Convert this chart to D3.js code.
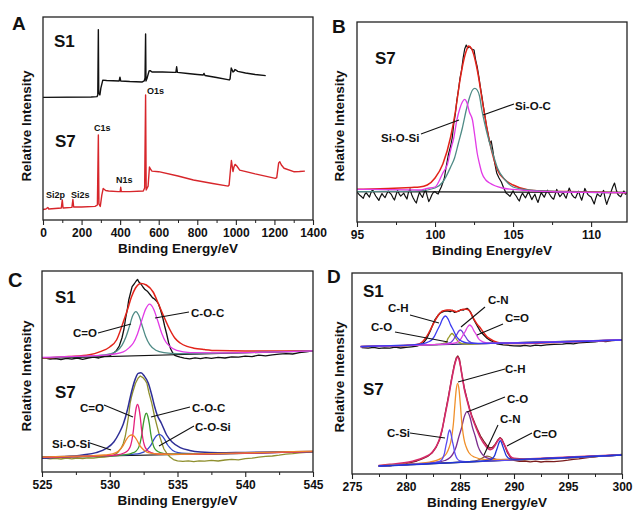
<!DOCTYPE html>
<html><head><meta charset="utf-8">
<script src="https://cdn.jsdelivr.net/npm/d3@7"></script>
<style>
body{margin:0;background:#fff;}
svg text{font-family:"Liberation Sans",Arial,Helvetica,sans-serif;font-weight:bold;fill:#111;}
</style></head><body>
<svg id="chart" width="640" height="516"></svg>
<script>
// ---------------- DATA (x = binding energy / eV, y = relative intensity, a.u.) ----------------
// Panel A: survey spectra
const surveyS1 = [[0,60.4],[250,60.6],[280,60.8],[284,61.6],[287,93.8],[289,62.6],[295,61.6],[300,65.0],[310,68.9],[330,68.7],[395,68.5],[399,70.4],[403,68.5],[450,68.2],[515,68.0],[525,68.5],[529,70.0],[532,91.6],[534,68.5],[540,70.0],[550,73.4],[556,73.6],[565,72.9],[620,72.9],[680,72.7],[689,72.7],[693,75.5],[697,72.7],[750,72.2],[800,71.7],[830,71.4],[835,72.2],[840,71.2],[900,70.2],[965,69.0],[970,69.5],[976,74.9],[981,73.9],[985,72.9],[990,73.2],[995,74.1],[1000,73.9],[1010,73.2],[1050,72.4],[1100,71.7],[1155,71.1]];
const surveyS7 = [[0,5.2],[15,5.4],[25,6.2],[30,5.4],[95,5.9],[100,9.9],[104,5.9],[150,6.2],[155,10.1],[159,6.4],[200,6.4],[270,6.7],[282,7.4],[287,41.9],[290,7.9],[297,6.7],[305,12.3],[312,15.5],[325,14.5],[340,14.3],[390,14.0],[400,14.0],[403,16.1],[406,14.0],[450,14.0],[520,14.3],[527,15.8],[532,61.6],[535,14.8],[545,16.7],[552,26.1],[557,25.1],[565,24.1],[600,23.8],[700,21.7],[780,19.7],[880,18.0],[960,16.7],[965,17.2],[972,24.6],[977,29.3],[981,26.6],[985,23.9],[990,26.1],[996,27.4],[1005,26.6],[1020,24.6],[1100,22.7],[1205,20.5],[1212,20.9],[1222,28.1],[1228,28.7],[1236,27.1],[1250,25.5],[1300,23.8],[1330,23.9],[1358,24.1]];
const surveyTicks = [0,200,400,600,800,1000,1200,1400];

// Panel B: Si2p of S7
const bRaw = [[95.0,15.0],[95.1,14.1],[95.2,13.2],[95.3,12.6],[95.4,11.8],[95.5,13.9],[95.6,14.6],[95.7,13.4],[95.8,12.5],[95.9,14.8],[96.0,16.2],[96.1,14.5],[96.2,13.0],[96.3,11.9],[96.4,10.8],[96.5,12.7],[96.6,14.2],[96.7,13.1],[96.8,12.2],[96.9,14.0],[97.0,15.5],[97.1,14.6],[97.2,13.8],[97.3,12.2],[97.4,11.0],[97.5,13.5],[97.6,15.8],[97.7,14.1],[97.8,12.9],[97.9,13.7],[98.0,14.4],[98.1,12.8],[98.2,11.5],[98.3,14.9],[98.4,16.6],[98.5,13.8],[98.6,12.0],[98.7,10.6],[98.8,9.5],[98.9,12.4],[99.0,14.8],[99.1,13.5],[99.2,12.3],[99.3,14.7],[99.4,16.0],[99.5,12.9],[99.6,10.2],[99.7,11.8],[99.8,13.6],[99.9,14.9],[100.0,15.2],[100.1,14.4],[100.2,14.0],[100.3,15.9],[100.4,17.5],[100.6,22],[100.7,27],[100.85,33.5],[101.0,38],[101.1,42],[101.2,49],[101.3,54],[101.4,61],[101.5,66],[101.6,72],[101.7,76],[101.8,82],[101.9,86.5],[102.0,88.5],[102.1,87],[102.2,87.7],[102.35,86.5],[102.5,86],[102.6,81],[102.7,77.7],[102.8,73],[102.9,67.7],[103.0,63],[103.1,57.7],[103.2,53],[103.3,47.7],[103.4,44],[103.5,39.5],[103.6,40.5],[103.7,36],[103.8,30.5],[103.95,24.5],[104.1,22],[104.25,20],[104.4,17],[104.55,14.5],[104.7,13.6],[104.8,12.8],[104.9,14.2],[105.0,15.6],[105.1,14.0],[105.2,13.0],[105.3,11.6],[105.4,10.5],[105.5,12.9],[105.6,14.4],[105.7,13.2],[105.8,12.1],[105.9,13.8],[106.0,15.0],[106.1,13.1],[106.2,11.2],[106.3,12.6],[106.4,13.9],[106.5,11.5],[106.6,9.8],[106.7,12.4],[106.8,14.7],[106.9,13.6],[107.0,12.4],[107.1,14.3],[107.2,15.9],[107.3,14.4],[107.4,13.1],[107.5,12.0],[107.6,11.4],[107.7,13.9],[107.8,16.3],[107.9,14.2],[108.0,12.7],[108.1,13.6],[108.2,14.9],[108.3,13.2],[108.4,11.9],[108.5,14.6],[108.6,17.0],[108.7,15.0],[108.8,13.3],[108.9,12.4],[109.0,12.0],[109.1,13.9],[109.2,15.4],[109.3,12.8],[109.4,10.9],[109.5,13.7],[109.6,16.8],[109.7,15.1],[109.8,13.7],[109.9,13.0],[110.0,12.5],[110.1,10.8],[110.2,9.0],[110.3,11.9],[110.4,14.1],[110.5,13.3],[110.6,12.8],[110.7,14.4],[110.8,15.8],[110.9,11.6],[111.0,8.8],[111.1,11.2],[111.2,13.0],[111.3,15.6],[111.4,17.8],[111.5,19.5],[111.6,16.4],[111.7,14.0],[111.8,13.1],[111.9,12.6],[112.0,14.2],[112.1,15.5],[112.2,13.9],[112.3,14.3]];
const bFit = [[95,16.35],[97,16.8],[98.5,17.3],[99,17.5],[99.5,18.5],[100,22],[100.5,29],[101,42.5],[101.3,55],[101.6,71],[101.8,79.5],[102.0,85.5],[102.15,88],[102.35,86.5],[102.6,80],[102.8,72],[103.0,62],[103.2,52.5],[103.5,40],[103.75,32],[104.0,26],[104.5,21],[105.0,18.5],[106.0,16],[107,15.5],[108.5,15.2],[110,15.0],[112.3,14.65]];
const bSiOSi = [[95,16.35],[97,16.2],[98.5,16.1],[99,16.0],[99.5,16.8],[100,17.5],[100.5,24.5],[100.8,29],[101.0,36],[101.2,42],[101.4,51],[101.6,57],[101.75,60],[101.9,61.35],[102.05,59.5],[102.2,55],[102.4,51],[102.55,43],[102.7,34.5],[102.85,29],[103.0,24.5],[103.25,21],[103.5,19.5],[104.3,17],[105,16.3],[106,15.65],[108,15.0],[110,14.8],[112.3,14.65]];
const bSiOC = [[95,15.2],[97,15.3],[99,15.6],[100,17],[100.5,20],[101.0,27.5],[101.25,32],[101.5,39.5],[101.75,47],[102.0,56],[102.2,62],[102.4,66],[102.55,66.85],[102.7,66],[102.85,63],[103.0,56],[103.25,47],[103.5,39.5],[103.75,33],[104.0,27],[104.5,21],[105.0,17.5],[106.0,16],[107,15.5],[109,15],[112.3,14.7]];
const bBase = [[95,15.15],[112.3,14.85]];
const bTicks = [95,100,105,110];

// Panel C: O1s of S1 (upper) and S7 (lower)
const cS1Raw = [[525.25,56.9],[525.6,56.4],[526,56.7],[526.4,56.2],[526.8,56.8],[527.2,56.4],[527.6,57.0],[528,56.3],[528.4,56.9],[528.8,57.4],[529.2,57.0],[529.6,57.8],[530,58.2],[530.3,59.5],[530.5,60.8],[530.7,63],[530.9,67],[531.05,71.5],[531.15,76],[531.3,81.5],[531.4,86],[531.55,90],[531.65,92.7],[531.8,94],[531.95,95.5],[532.05,96.3],[532.15,95],[532.3,94],[532.45,92.5],[532.6,91.2],[532.8,90.2],[533.0,88.5],[533.15,87.2],[533.3,86.5],[533.45,85.5],[533.6,84],[533.75,81],[533.9,77.5],[534.05,73],[534.2,69],[534.35,64.5],[534.5,61.5],[534.65,59.5],[534.8,58.3],[535,57.8],[535.2,57.4],[535.5,56.9],[535.9,56.6],[536.3,57.1],[536.7,56.7],[537.1,57.2],[537.5,56.8],[538,57.3],[538.5,57.0],[539,57.6],[539.5,57.4],[540,57.9],[540.5,57.7],[541,58.4],[541.5,58.1],[542,58.6],[542.5,58.9],[543,59.2],[543.5,59.0],[544,59.7],[544.5,60.1],[545,60.6]];
const cS1Fit = [[525,56.9],[527,57.7],[528.5,58.6],[529.3,60.2],[530,62.5],[530.5,66],[531,75],[531.3,81],[531.6,87.5],[531.9,92],[532.3,94.3],[532.7,93.5],[533.2,90],[533.6,84],[534,77.6],[534.45,71],[534.8,67],[535.2,64.5],[535.7,62.8],[536.2,61.9],[537,61.2],[537.9,60.7],[540,60.5],[545,60.6]];
const cS1CO = [[525,57.1],[527,57.55],[529,58.1],[530,59.0],[530.5,60.4],[530.9,63.3],[531.2,67.6],[531.45,72.8],[531.7,78.2],[531.93,80.2],[532.15,78.2],[532.4,73],[532.65,67.8],[532.95,63.7],[533.4,60.9],[534,59.7],[535,59.2],[537,59.3],[540,59.7],[545,60.5]];
const cS1COC = [[525,57.3],[528,57.9],[530,58.7],[531,60.1],[531.44,62.2],[531.74,64.5],[532.04,68.9],[532.34,75.3],[532.64,81.3],[532.94,83.9],[533.24,81.4],[533.54,75.6],[533.84,69.3],[534.14,65],[534.44,62.8],[534.94,60.8],[535.94,59.7],[538,59.6],[545,60.6]];
const cS1Base = [[525,56.8],[545,60.5]];
const cS7Raw = [[525.2,6.9],[525.6,6.6],[526,6.8],[526.4,6.5],[526.8,6.9],[527.2,6.6],[527.6,7.0],[528,6.7],[528.4,7.1],[528.8,6.9],[529.2,7.3],[529.6,7.5],[530,7.8],[530.3,8.4],[530.6,9.8],[530.85,12],[531.0,14.3],[531.15,18],[531.27,22.7],[531.4,28.5],[531.5,34.3],[531.6,37.5],[531.7,40],[531.9,44.4],[532.1,47],[532.25,48],[532.45,47.2],[532.6,46],[532.74,44.4],[532.9,39.5],[533.1,34.4],[533.3,28],[533.5,22.7],[533.7,17.5],[533.85,14.4],[534.0,11.5],[534.2,9.4],[534.45,7.5],[534.7,6.2],[535,5.6],[535.4,5.3],[535.8,5.6],[536.2,5.2],[536.6,5.6],[537,5.4],[537.5,5.8],[538,5.5],[538.5,6.0],[539,6.3],[539.5,6.1],[540,6.7],[540.5,6.9],[541,7.4],[541.5,7.8],[542,8.0],[542.5,8.4],[543,8.9],[543.5,9.2],[544,9.6],[544.5,9.8],[545,10.2]];
const cS7Fit = [[525,6.9],[526.5,7.5],[528,8.5],[529,9.7],[529.75,11.8],[530.3,15],[530.7,19.5],[531.0,24],[531.3,31],[531.5,37],[531.7,42.5],[531.9,46.8],[532.1,49.3],[532.3,49.6],[532.55,48],[532.85,44.4],[533.1,38.5],[533.3,33],[533.5,28.5],[533.8,24.5],[534.2,18.5],[534.6,15],[535.2,12.2],[535.9,10.8],[536.7,10],[538,9.6],[540,9.8],[545,10.2]];
const cS7CO = [[525,7.35],[529,8.0],[530.5,8.5],[531.05,9.5],[531.35,10.8],[531.55,13.4],[531.65,16.5],[531.75,21.05],[531.85,27.4],[531.95,32],[532.05,33.85],[532.15,32],[532.25,27.5],[532.35,21.1],[532.45,16.5],[532.55,13.5],[532.75,10.95],[533.05,9.75],[533.55,9.0],[534.5,8.8],[545,10.15]];
const cS7COC = [[525,7.4],[530,8.0],[531.05,8.6],[531.6,9.35],[531.93,10.4],[532.15,12.55],[532.26,15.05],[532.37,18.9],[532.48,24.15],[532.59,27.9],[532.7,29.4],[532.81,27.9],[532.92,24.2],[533.03,18.95],[533.14,15.15],[533.25,12.65],[533.47,10.6],[533.8,9.6],[534.35,9.0],[535.5,9.0],[545,10.15]];
const cS7SiOSi = [[525,7.45],[526.6,7.8],[528.6,8.1],[529.6,8.5],[530.2,9.1],[530.6,10.25],[530.8,11.55],[531.0,13.35],[531.2,15.9],[531.4,17.8],[531.6,18.5],[531.8,17.85],[532.0,16],[532.2,13.45],[532.4,11.75],[532.6,10.5],[533.0,9.4],[533.6,9.0],[534.6,8.85],[536.6,9.05],[545,10.4]];
const cS7COSi = [[525,7.45],[527.6,7.9],[530.6,8.35],[531.65,8.8],[532.25,9.35],[532.65,10.5],[532.85,11.8],[533.05,13.6],[533.25,16.15],[533.45,18.1],[533.65,18.85],[533.85,18.15],[534.05,16.3],[534.25,13.75],[534.45,12.05],[534.65,10.75],[535.05,9.7],[535.65,9.3],[536.65,9.15],[545,10.15]];
const cS7Base = [[525,7.35],[545,10.15]];
const cTicks = [525,530,535,540,545];

// Panel D: C1s of S1 (upper) and S7 (lower)
const dS1Raw = [[275.9,63.2],[276.5,62.9],[277,63.3],[277.5,62.8],[278,63.1],[278.5,62.9],[279,63.4],[279.5,63.0],[280,63.3],[280.5,63.6],[281,63.9],[281.3,64.6],[281.6,65.6],[281.9,67.6],[282.25,71.5],[282.5,75],[282.7,77.3],[283.0,79.5],[283.2,80.6],[283.5,81.3],[283.8,81.6],[284.1,81.2],[284.3,81.8],[284.5,80.8],[284.7,81.2],[284.9,81.5],[285.1,82.2],[285.3,81.9],[285.5,82.5],[285.65,82.85],[285.8,82.2],[285.95,81.2],[286.25,77.5],[286.6,74],[286.9,71.2],[287.2,69.5],[287.5,67.9],[287.8,66.8],[288.1,66],[288.4,65.1],[289,64.6],[289.35,64.4],[290,64.1],[290.6,64],[291,64.3],[291.5,63.9],[292,64.4],[292.5,64.2],[293,64.6],[293.7,64.85],[294.5,64.9],[295,65.3],[295.5,65.1],[296,65.6],[296.75,65.85],[297.5,66.1],[298,66.4],[298.5,66.2],[299,66.7],[299.8,67]];
const dS1Fit = [[275.8,63.7],[278,64],[280,64.3],[281,64.8],[281.5,66],[281.8,67.85],[282.1,70.5],[282.4,73.65],[282.7,76.8],[283.0,79.5],[283.25,81],[283.5,81.65],[283.8,82],[284.1,82],[284.4,81.6],[284.7,81.15],[285.0,81.8],[285.3,82.35],[285.6,82.4],[285.8,82],[286.0,80.5],[286.25,77.85],[286.55,75.2],[286.9,72.85],[287.2,70.6],[287.5,68.65],[287.9,67.2],[288.3,66.15],[288.8,65.5],[289.35,65.2],[291,65.3],[295,66],[300,67]];
const dS1CH = [[275.8,63.75],[278.6,64.15],[280.6,64.6],[281.6,65.15],[282.1,66.1],[282.4,67.15],[282.64,68.9],[282.89,71.75],[283.14,74.35],[283.39,77.55],[283.64,79],[283.89,77.6],[284.14,74.45],[284.39,71.9],[284.64,69.1],[284.89,67.4],[285.14,66.45],[285.64,65.6],[286.64,65.35],[288.64,65.4],[300,67]];
const dS1CO = [[275.8,63.7],[281.5,64.5],[282.66,64.7],[283.2,64.9],[283.46,65.3],[283.73,65.7],[283.86,67.45],[283.99,68.5],[284.13,69.7],[284.26,70.25],[284.39,69.7],[284.53,68.55],[284.66,67.55],[284.79,66.45],[284.93,65.8],[285.06,65.45],[285.33,65.1],[285.86,65],[287,65.2],[300,67]];
const dS1CN = [[275.8,63.7],[281.7,64.55],[283.03,64.8],[283.7,65.05],[284.03,65.55],[284.2,66.05],[284.36,66.9],[284.53,68.4],[284.7,69.7],[284.86,71.25],[285.03,72],[285.2,71.3],[285.36,69.75],[285.53,68.5],[285.7,67.05],[285.86,66.2],[286.03,65.75],[286.36,65.3],[287.03,65.2],[288.3,65.4],[300,67]];
const dS1CdO = [[275.8,63.7],[281.9,64.6],[283.5,64.9],[284.3,65.3],[284.7,65.85],[284.9,66.55],[285.1,67.7],[285.3,69.65],[285.5,71.4],[285.7,73.5],[285.9,74.5],[286.1,73.55],[286.3,71.45],[286.5,69.8],[286.7,67.85],[286.9,66.7],[287.1,66.1],[287.5,65.6],[288.3,65.4],[289.9,65.5],[300,67]];
const dS1Base = [[275.8,63.65],[300,67]];
const dS7Raw = [[277.5,4.0],[278,4.3],[278.5,4.1],[279,4.6],[279.5,4.9],[280,5.2],[280.5,5.8],[281,6.5],[281.5,7.6],[282,8.8],[282.4,10.5],[282.8,13.5],[283.1,17],[283.35,22],[283.6,29.5],[283.9,38],[284.2,47],[284.45,54],[284.65,58],[284.8,59],[284.95,57.5],[285.15,50.5],[285.4,43],[285.65,37.5],[285.9,32.5],[286.1,29],[286.4,25],[286.6,22.5],[286.9,19],[287.2,16.5],[287.5,14.2],[287.75,13],[288.0,13.3],[288.25,14.8],[288.5,17],[288.7,18.2],[288.9,17.2],[289.15,14],[289.4,10.5],[289.7,8],[290,6.8],[290.5,6.3],[291,6.5],[291.5,6.1],[292,6.4],[292.5,6.0],[293,6.3],[293.7,6.15],[294.5,6.6],[295,6.9],[295.5,7.3],[296,7.6],[296.5,8.0],[297,8.3],[297.5,8.6],[298,8.9],[298.5,9.1],[299,9.3],[299.5,9.6],[300,9.8]];
const dS7Fit = [[277.46,4.2],[278.5,4.8],[279.8,5.6],[280.6,6.4],[281.3,7.5],[281.8,8.6],[282.25,10],[282.6,12],[282.87,14.5],[283.1,17.5],[283.33,22],[283.6,29],[283.95,38.65],[284.2,46.5],[284.4,52],[284.6,56.5],[284.78,58.35],[284.95,56.5],[285.2,49],[285.4,42.5],[285.65,37],[285.9,32],[286.1,28.65],[286.35,25],[286.57,22],[286.9,18],[287.2,15.35],[287.5,13.2],[287.8,12.2],[288.05,12.8],[288.27,14.5],[288.5,16.6],[288.73,17.85],[288.95,16.2],[289.2,13.65],[289.45,10.8],[289.66,8.9],[290,7.8],[291,7.5],[295,8.5],[300,9.6]];
const dS7CH = [[277.46,4.2],[279.78,4.8],[282.18,5.95],[283.24,7.8],[283.75,10.25],[284.01,13.5],[284.14,15.95],[284.27,19.9],[284.395,25.5],[284.52,34.2],[284.65,42.15],[284.78,45.35],[284.91,42.2],[285.04,34.3],[285.165,25.65],[285.29,20.1],[285.42,16.2],[285.55,13.85],[285.81,10.75],[286.32,8.5],[287.38,7.2],[289.78,7.25],[300,9.6]];
const dS7CO = [[277.46,4.1],[280.65,5.0],[282.55,5.75],[283.59,6.75],[284.11,8.35],[284.36,10.2],[284.62,13.25],[284.88,18.4],[285.14,23],[285.39,28.55],[285.65,31.15],[285.91,28.65],[286.16,23.2],[286.42,18.75],[286.68,13.7],[286.94,10.8],[287.19,9.1],[287.71,7.7],[288.75,7.2],[290.65,7.4],[300,9.5]];
const dS7CSi = [[277.46,4],[281.64,5.15],[282.6,5.55],[283.08,6.15],[283.32,7.2],[283.44,8.4],[283.56,10.35],[283.68,13.7],[283.8,16.65],[283.92,20.3],[284.04,22],[284.16,20.35],[284.28,16.75],[284.4,13.85],[284.52,10.55],[284.64,8.65],[284.76,7.5],[285.0,6.55],[285.48,6.15],[286.44,6.25],[290,7.05],[300,9.5]];
const dS7CN = [[277.46,4],[284.3,5.75],[285.5,6.05],[286.3,6.45],[286.7,7.0],[286.9,7.55],[287.1,8.05],[287.3,8.65],[287.5,8.95],[287.7,8.75],[287.9,8.25],[288.1,7.85],[288.3,7.4],[288.7,7.05],[289.5,7.0],[300,9.5]];
const dS7CdO = [[277.46,4],[286.23,6.25],[287.23,6.6],[287.73,7.0],[287.99,7.65],[288.11,8.4],[288.23,9.55],[288.36,11.6],[288.48,13.45],[288.61,15.6],[288.73,16.65],[288.85,15.65],[288.98,13.55],[289.1,11.75],[289.23,9.8],[289.35,8.65],[289.47,8.0],[289.73,7.45],[290.23,7.25],[291.23,7.4],[300,9.5]];
const dS7Base = [[277.46,4],[300,9.5]];
const dTicks = [275,280,285,290,295,300];

// ---------------- LAYOUT ----------------
const svg = d3.select("#chart");
const FONT = '"Liberation Sans", Arial, Helvetica, sans-serif';

function makePanel(key, box, xDom, yDom, majors, minors, yTitleCenter, yTitleX) {
  const x = d3.scaleLinear().domain(xDom).range([box.left, box.right]);
  const y = d3.scaleLinear().domain(yDom).range([box.bottom, box.top]);
  svg.append("clipPath").attr("id", "clip" + key).append("rect")
    .attr("x", box.left).attr("y", box.top)
    .attr("width", box.right - box.left).attr("height", box.bottom - box.top);
  const plot = svg.append("g").attr("clip-path", `url(#clip${key})`);
  const ax = svg.append("g").attr("transform", `translate(0,${box.bottom})`)
    .call(d3.axisBottom(x).tickValues(majors).tickSize(5).tickPadding(3).tickFormat(d3.format("d")));
  ax.select(".domain").remove();
  ax.selectAll("text").attr("font-size", 12).attr("font-family", FONT).attr("font-weight", "bold").attr("fill", "#111");
  ax.selectAll("line").attr("stroke", "#222").attr("stroke-width", 1.1);
  const axm = svg.append("g").attr("transform", `translate(0,${box.bottom})`)
    .call(d3.axisBottom(x).tickValues(minors).tickSize(3).tickFormat(""));
  axm.select(".domain").remove();
  axm.selectAll("line").attr("stroke", "#222").attr("stroke-width", 1);
  svg.append("rect").attr("x", box.left).attr("y", box.top)
    .attr("width", box.right - box.left).attr("height", box.bottom - box.top)
    .attr("fill", "none").attr("stroke", "#222").attr("stroke-width", 1.3);
  svg.append("text").attr("x", (box.left + box.right) / 2).attr("y", box.bottom + 33)
    .attr("text-anchor", "middle").attr("font-size", 13.5).text("Binding Energy/eV");
  svg.append("text").attr("transform", `translate(${yTitleX},${yTitleCenter}) rotate(-90)`)
    .attr("text-anchor", "middle").attr("font-size", 13.5).text("Relative Intensity");
  return { x, y, plot };
}

function drawLine(p, data, color, width, smooth) {
  p.plot.append("path").datum(data)
    .attr("fill", "none").attr("stroke", color).attr("stroke-width", width)
    .attr("stroke-linejoin", "round")
    .attr("d", d3.line().x(d => p.x(d[0])).y(d => p.y(d[1]))
      .curve(smooth ? d3.curveMonotoneX : d3.curveLinear));
}
function label(t, x, y, size) {
  svg.append("text").attr("x", x).attr("y", y).attr("font-size", size).text(t);
}
function leader(x1, y1, x2, y2) {
  svg.append("line").attr("x1", x1).attr("y1", y1).attr("x2", x2).attr("y2", y2)
    .attr("stroke", "#111").attr("stroke-width", 1.1);
}

// ---- Panel A ----
const pA = makePanel("A", {left:43,right:313,top:17,bottom:220}, [0,1400], [0,100],
  surveyTicks, [100,300,500,700,900,1100,1300], 126, 31);
drawLine(pA, surveyS1, "#111", 1.4, false);
drawLine(pA, surveyS7, "#d7262b", 1.4, false);
label("A", 12, 30, 19); label("S1", 54, 47, 17); label("S7", 55, 147, 17);
label("O1s", 147, 93.5, 9); label("C1s", 94, 131, 9); label("N1s", 116, 183, 9);
label("Si2p", 46, 198, 9); label("Si2s", 71, 198, 9);

// ---- Panel B ----
const pB = makePanel("B", {left:357,right:627,top:22,bottom:222}, [95,112.3], [0,100],
  bTicks, [97.5,102.5,107.5], 126, 344);
drawLine(pB, bBase, "#111", 1.2, false);
drawLine(pB, bRaw, "#111", 1.2, false);
drawLine(pB, bFit, "#e2231a", 1.5, true);
drawLine(pB, bSiOC, "#4f8b86", 1.3, true);
drawLine(pB, bSiOSi, "#e23be6", 1.3, true);
label("B", 332, 33, 19); label("S7", 375, 64, 17);
label("Si-O-C", 515, 110, 11.5); leader(514, 104, 483, 115);
label("Si-O-Si", 381, 142, 11.5); leader(421, 134, 459, 120);

// ---- Panel C ----
const pC = makePanel("C", {left:42,right:313,top:271,bottom:472}, [525,545], [0,100.5],
  cTicks, [527.5,532.5,537.5,542.5], 376, 31);
drawLine(pC, cS1Base, "#111", 1.1, false);
drawLine(pC, cS1Raw, "#111", 1.3, false);
drawLine(pC, cS1Fit, "#e2231a", 1.5, true);
drawLine(pC, cS1CO, "#4f8b86", 1.3, true);
drawLine(pC, cS1COC, "#e23be6", 1.3, true);
drawLine(pC, cS7Base, "#111", 1.1, false);
drawLine(pC, cS7Raw, "#8f8f2e", 1.3, false);
drawLine(pC, cS7Fit, "#2e2e96", 1.5, true);
drawLine(pC, cS7COSi, "#3448c8", 1.3, true);
drawLine(pC, cS7COC, "#3f9a2e", 1.3, true);
drawLine(pC, cS7CO, "#e4207c", 1.3, true);
drawLine(pC, cS7SiOSi, "#ef8429", 1.3, true);
label("C", 8, 287, 20); label("S1", 55, 303, 17); label("S7", 55, 398, 17);
label("C=O", 73, 337, 11.5); leader(98, 333, 131, 324);
label("C-O-C", 191, 317, 11.5); leader(189, 312, 155, 318);
label("C=O", 80, 412, 11.5); leader(104, 405, 133, 417);
label("C-O-C", 192, 412, 11.5); leader(190, 407, 151, 417);
label("C-O-Si", 195, 431, 11.5); leader(194, 426, 159, 446);
label("Si-O-Si", 52, 448, 11.5); leader(90, 443, 111, 450);

// ---- Panel D ----
const pD = makePanel("D", {left:352,right:622,top:273,bottom:474}, [275,300], [0,100.5],
  dTicks, [277.5,282.5,287.5,292.5,297.5], 377, 344);
drawLine(pD, dS1Raw, "#111", 1.3, false);
drawLine(pD, dS1Base, "#1a1a6a", 1.2, false);
drawLine(pD, dS1Fit, "#e2231a", 1.5, true);
drawLine(pD, dS1CO, "#9a9a2a", 1.3, true);
drawLine(pD, dS1CN, "#6b3fd8", 1.3, true);
drawLine(pD, dS1CdO, "#e245e2", 1.3, true);
drawLine(pD, dS1CH, "#3b3bf0", 1.3, true);
drawLine(pD, dS7Raw, "#7b1d1d", 1.3, false);
drawLine(pD, dS7Base, "#111", 1.3, false);
drawLine(pD, dS7Fit, "#d52a6a", 1.6, true);
drawLine(pD, dS7CN, "#8a5a3a", 1.2, true);
drawLine(pD, dS7CO, "#7b2d8e", 1.3, true);
drawLine(pD, dS7CH, "#f0902a", 1.3, true);
drawLine(pD, dS7CSi, "#5a4af0", 1.3, true);
drawLine(pD, dS7CdO, "#2035d8", 1.3, true);
label("D", 327, 283, 19); label("S1", 363, 297, 17); label("S7", 363, 395, 17);
label("C-H", 388, 312, 11.5); leader(410, 315, 439, 323);
label("C-O", 371, 331, 11.5); leader(395, 332, 448, 342);
label("C-N", 488, 304, 11.5); leader(485, 307, 461, 327);
label("C=O", 505, 322, 11.5); leader(503, 324, 477, 335);
label("C-H", 505, 373, 11.5); leader(505, 369, 458, 382);
label("C-O", 507, 403, 11.5); leader(505, 397, 467, 412);
label("C-N", 500, 423, 11.5); leader(498, 425, 484, 455);
label("C=O", 533, 438, 11.5); leader(532, 433, 507, 446);
label("C-Si", 387, 437, 11.5); leader(410, 433, 445, 438);
</script></body></html>
